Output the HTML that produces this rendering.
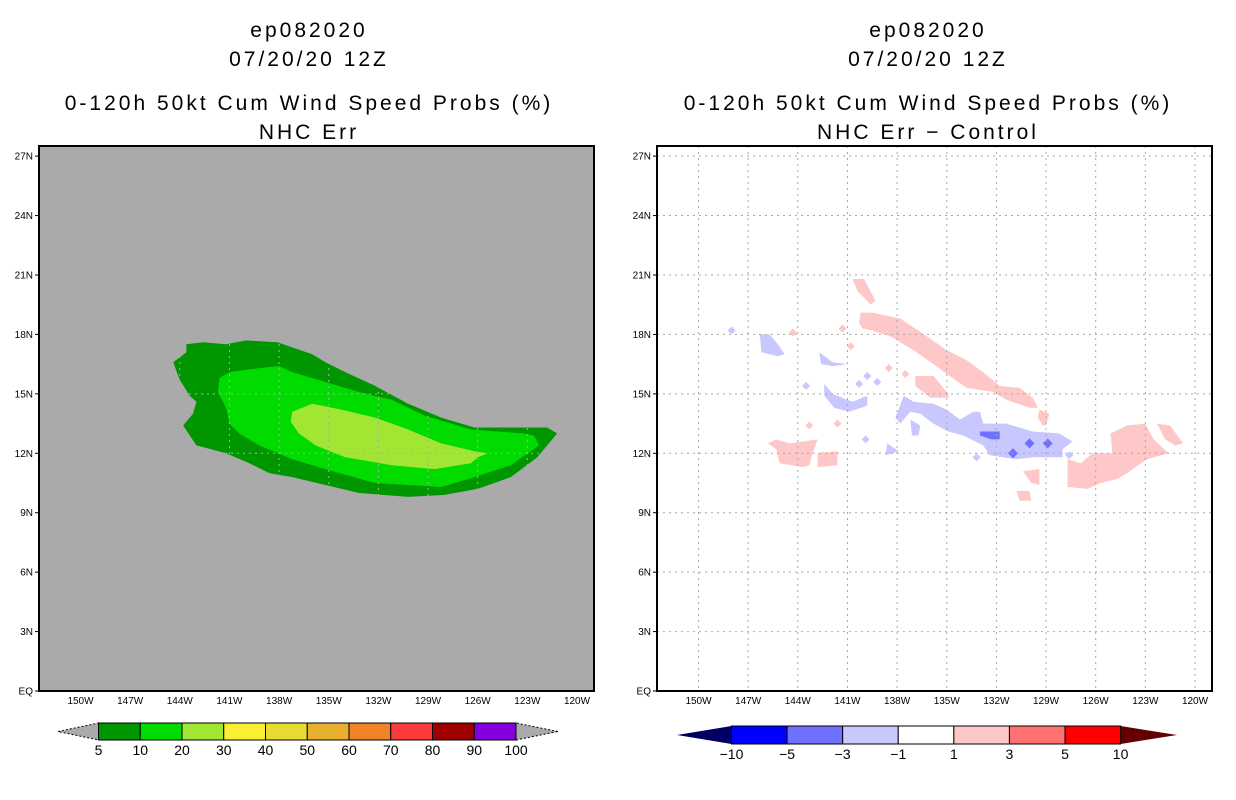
<!DOCTYPE html>
<html><head><meta charset="utf-8"><style>
html,body{margin:0;padding:0;background:#fff}
svg{display:block}
text{font-family:"Liberation Sans",sans-serif;fill:#000}
.t{font-size:21px;letter-spacing:3px}
.ax{font-size:10px}
.cb{font-size:14px}
</style></head><body>
<svg id="chart" width="1236" height="800" viewBox="0 0 1236 800">
<g>
<text class="t" x="309" y="37" text-anchor="middle">ep082020</text>
<text class="t" x="309" y="66" text-anchor="middle">07/20/20 12Z</text>
<text class="t" x="309" y="110" text-anchor="middle">0-120h 50kt Cum Wind Speed Probs (%)</text>
<text class="t" x="309" y="139" text-anchor="middle">NHC Err</text>
</g>
<g>
<text class="t" x="928" y="37" text-anchor="middle">ep082020</text>
<text class="t" x="928" y="66" text-anchor="middle">07/20/20 12Z</text>
<text class="t" x="928" y="110" text-anchor="middle">0-120h 50kt Cum Wind Speed Probs (%)</text>
<text class="t" x="928" y="139" text-anchor="middle">NHC Err − Control</text>
</g>
<g id="L"></g>
<g id="R"></g>
<g id="CB"></g>
</svg>
<script>
const NS="http://www.w3.org/2000/svg";
const latTicks=[27,24,21,18,15,12,9,6,3,0];
const latLabels=["27N","24N","21N","18N","15N","12N","9N","6N","3N","EQ"];
const lonTicks=[150,147,144,141,138,135,132,129,126,123,120];
const lonLabels=["150W","147W","144W","141W","138W","135W","132W","129W","126W","123W","120W"];
// left panel contours [lonW, latN]
const prob5=[[143.6,17.5],[142.6,17.6],[141.2,17.5],[140.0,17.7],[138.1,17.6],[136.0,17.0],[135.2,16.6],[134.0,16.1],[132.2,15.4],[130.2,14.5],[128.2,13.8],[126.2,13.3],[123.2,13.3],[121.8,13.3],[121.2,13.0],[122.4,11.8],[124.0,10.8],[126.0,10.2],[128.0,9.9],[130.2,9.8],[133.2,10.0],[135.2,10.4],[137.2,10.8],[138.6,11.0],[139.8,11.5],[141.2,12.0],[143.0,12.4],[143.8,13.4],[143.2,14.0],[143.0,14.6],[143.4,14.9],[144.0,15.7],[144.4,16.6],[143.6,17.1]];
const prob10=[[141.6,15.8],[141.0,16.1],[139.2,16.3],[138.0,16.4],[137.2,16.1],[135.2,15.6],[133.2,15.1],[131.2,14.7],[129.2,13.9],[126.4,13.2],[123.2,13.0],[122.6,12.9],[122.3,12.4],[124.0,11.4],[126.2,10.8],[128.2,10.3],[130.2,10.4],[132.2,10.5],[134.8,11.1],[137.2,11.7],[139.2,12.4],[140.4,13.0],[141.0,13.5],[141.2,14.3],[141.7,15.1]];
const prob20=[[137.2,14.1],[136.0,14.5],[134.2,14.2],[132.2,13.8],[130.2,13.2],[128.2,12.5],[126.2,12.1],[125.4,12.0],[126.0,11.8],[126.4,11.5],[128.6,11.2],[131.2,11.4],[134.0,11.8],[135.8,12.4],[136.8,13.0],[137.3,13.6]];
// right panel difference contours
const posBand=[[140.2,19.1],[139.5,19.1],[137.8,18.8],[136.2,17.9],[135.0,17.2],[133.8,16.7],[132.8,16.1],[131.8,15.4],[130.6,15.3],[129.8,14.8],[129.5,14.3],[130.0,14.3],[131.4,14.7],[132.2,15.1],[133.8,15.3],[135.0,16.0],[135.8,16.5],[137.0,17.2],[138.4,17.9],[139.5,18.2],[140.1,18.3],[140.3,18.6]];
const posSE=[[127.7,11.7],[126.9,11.5],[126.2,12.0],[125.0,12.0],[125.1,13.0],[124.1,13.4],[123.0,13.5],[122.5,12.7],[121.6,12.0],[122.9,11.7],[124.1,11.0],[124.7,10.7],[125.7,10.5],[126.5,10.2],[127.7,10.3]];
const posE=[[122.3,13.5],[121.5,13.4],[120.9,12.7],[120.7,12.5],[121.2,12.4],[121.8,12.7]];
const posSW=[[145.8,12.5],[145.3,12.7],[144.5,12.5],[142.8,12.7],[143.1,12.0],[143.3,11.4],[143.7,11.3],[145.1,11.5],[145.3,12.2]];
const posSW2=[[142.8,12.0],[141.6,12.1],[141.6,11.4],[142.8,11.3]];
const posN=[[140.7,20.8],[140.0,20.8],[139.3,19.7],[139.6,19.5],[140.4,20.2]];
const posMid=[[136.9,15.9],[135.8,15.9],[134.9,15.0],[134.9,14.8],[136.0,14.8],[136.9,15.4]];
const posA=[[129.4,14.2],[128.8,14.0],[129.0,13.4],[129.2,13.4],[129.5,13.8]];
const posB=[[130.8,10.1],[130.0,10.1],[129.9,9.6],[130.6,9.6]];
const posC=[[130.4,11.1],[129.4,11.2],[129.4,10.4],[129.9,10.5]];
const negBand=[[137.6,14.9],[137.0,14.6],[135.8,14.5],[135.0,14.2],[134.2,13.7],[133.4,14.1],[133.0,14.1],[132.8,13.5],[131.4,13.5],[129.8,13.1],[128.2,13.0],[127.4,12.6],[128.0,12.2],[128.0,11.8],[129.8,11.8],[130.8,11.7],[132.4,11.9],[132.8,12.4],[134.0,12.9],[134.9,13.1],[135.8,13.5],[136.6,14.0],[137.2,14.1],[137.8,13.5],[138.1,13.8]];
const negArc=[[142.4,15.5],[141.9,15.0],[140.7,14.6],[139.8,14.9],[139.8,14.4],[140.9,14.1],[141.8,14.3],[142.4,14.9]];
const negNW=[[146.3,18.0],[145.7,18.0],[145.2,17.5],[144.8,17.0],[145.2,16.9],[146.2,17.1]];
const negNW2=[[142.7,17.1],[141.9,16.6],[141.0,16.5],[141.9,16.4],[142.6,16.5]];
const negS=[[138.6,12.5],[137.9,12.1],[138.7,11.9]];
const negS2=[[137.2,13.7],[136.6,13.4],[136.7,12.9],[137.1,12.9]];
const neg3a=[[133.0,13.1],[131.8,13.1],[131.8,12.7],[132.3,12.7],[133.0,12.9]];
// small blobs: [lonW, latN, value]
const blobLon=[137.5,131.0,130.0,128.9,127.6,143.5,139.2,140.3,143.3,136.0,139.8,142.5,141.3,138.5,140.8,148.0,139.9,133.2,144.3,141.6];
const blobLat=[16.0,12.0,12.5,12.5,11.9,15.4,15.6,15.5,13.4,17.1,15.9,11.9,18.3,16.3,17.4,18.2,12.7,11.8,18.1,13.5];
const blobVal=[2,-4,-4,-4,-2,-2,-2,-2,2,2,-2,2,2,2,2,-2,-2,-2,2,2];
// colorbars
const probLevels=["5","10","20","30","40","50","60","70","80","90","100"];
const probColors=["#009600","#00dc00","#a0e632","#faf032","#e6dc32","#e6af2d","#f08228","#fa3c3c","#a00000","#8200dc"];
const diffLevels=["−10","−5","−3","−1","1","3","5","10"];
const diffColors=["#0000ff","#7070ff","#c8c8ff","#ffffff","#ffc8c8","#ff7070","#ff0000"];

const yLat=lat=>691-lat*19.81;
const xL=lon=>80.5+(150-lon)*16.55;
const xR=lon=>698.5+(150-lon)*16.55;
function el(p,tag,a){const e=document.createElementNS(NS,tag);for(const k in a)e.setAttribute(k,a[k]);p.appendChild(e);return e;}
function poly(g,pts,fx,fill,name){
  const e=el(g,'polygon',{points:pts.map(p=>fx(p[0]).toFixed(1)+','+yLat(p[1]).toFixed(1)).join(' '),fill:fill});
  
  
}
function panel(g,x0,fx,bg){
  const r=el(g,'rect',{x:x0,y:146,width:555,height:545,fill:bg});
  
  
  return r;
}
function axes(g,x0,fx,gridColor){
  const gg=el(g,'g',{});
  
  
  lonTicks.forEach(l=>{const x=fx(l);if(x>x0&&x<x0+555)el(gg,'line',{x1:x,y1:146,x2:x,y2:691,stroke:gridColor,'stroke-width':1,'stroke-dasharray':'2,4'});});
  latTicks.forEach(l=>{const y=yLat(l);if(l>0)el(gg,'line',{x1:x0,y1:y,x2:x0+555,y2:y,stroke:gridColor,'stroke-width':1,'stroke-dasharray':'2,4'});});
  const fr=el(g,'rect',{x:x0,y:146,width:555,height:545,fill:'none',stroke:'#000','stroke-width':2});
  
  
  latTicks.forEach((l,i)=>{const y=yLat(l);
    el(g,'line',{x1:x0-4,y1:y,x2:x0,y2:y,stroke:'#000'});
    const t=el(g,'text',{x:x0-6,y:y+3.5,'text-anchor':'end',class:'ax'});t.textContent=latLabels[i];
    
    });
  lonTicks.forEach((l,i)=>{const x=fx(l);
    const t=el(g,'text',{x:x,y:704,'text-anchor':'middle',class:'ax'});t.textContent=lonLabels[i];
    
    });
}
const L=document.getElementById('L'),R=document.getElementById('R');
panel(L,39,xL,'#aaaaaa');
poly(L,prob5,xL,'#009600','prob-5-contour');
poly(L,prob10,xL,'#00dc00','prob-10-contour');
poly(L,prob20,xL,'#a0e632','prob-20-contour');
axes(L,39,xL,'#aaaaaa');
panel(R,657,xR,'#ffffff');
const pos='#ffc8c8',neg='#c8c8ff';
[[posBand,'pos-band'],[posSE,'pos-se'],[posE,'pos-e'],[posSW,'pos-sw'],[posSW2,'pos-sw2'],[posN,'pos-n'],[posMid,'pos-mid'],[posA,'pos-a'],[posB,'pos-b'],[posC,'pos-c']].forEach(d=>poly(R,d[0],xR,pos,'diff-positive-'+d[1]));
[[negBand,'neg-band'],[negArc,'neg-arc'],[negNW,'neg-nw'],[negNW2,'neg-nw2'],[negS,'neg-s'],[negS2,'neg-s2']].forEach(d=>poly(R,d[0],xR,neg,'diff-negative-'+d[1]));
poly(R,neg3a,xR,'#7070ff','diff-negative-3');
blobLon.forEach((lo,i)=>{const x=xR(lo),y=yLat(blobLat[i]),v=blobVal[i];
  const c=v>=3?'#ff7070':v>0?pos:v<=-3?'#7070ff':neg;const s=Math.abs(v)>=3?5:4;
  const e=el(R,'polygon',{points:`${x},${y-s} ${x+s},${y} ${x},${y+s} ${x-s},${y}`,fill:c});
  
  });
axes(R,657,xR,'#a8a8a8');
// colorbars
const CB=document.getElementById('CB');
function colorbar(x0,x1,y0,h,colors,labels,lc,rc,tipL,tipR,dotted,name){
  const g=el(CB,'g',{});
  
  
  const w=(x1-x0)/colors.length,ym=y0+h/2;
  const st=dotted?{stroke:'#000','stroke-dasharray':'2,2','stroke-width':1}:{};
  el(g,'polygon',Object.assign({points:`${tipL},${ym} ${x0},${y0} ${x0},${y0+h}`,fill:lc},st));
  el(g,'polygon',Object.assign({points:`${tipR},${ym} ${x1},${y0} ${x1},${y0+h}`,fill:rc},st));
  colors.forEach((c,i)=>{const b=el(g,'rect',{x:x0+i*w,y:y0,width:w,height:h,fill:c,stroke:'#000','stroke-width':1});
    
    });
  labels.forEach((s,i)=>{const t=el(g,'text',{x:x0+i*w,y:y0+h+15,'text-anchor':'middle',class:'cb'});t.textContent=s;
    
    });
}
colorbar(98.5,516,723,17,probColors,probLevels,'#aaaaaa','#aaaaaa',58,558,true,'prob-colorbar');
colorbar(731.5,1120.6,726,18,diffColors,diffLevels,'#000064','#640000',677,1177,false,'diff-colorbar');
</script>
</body></html>
